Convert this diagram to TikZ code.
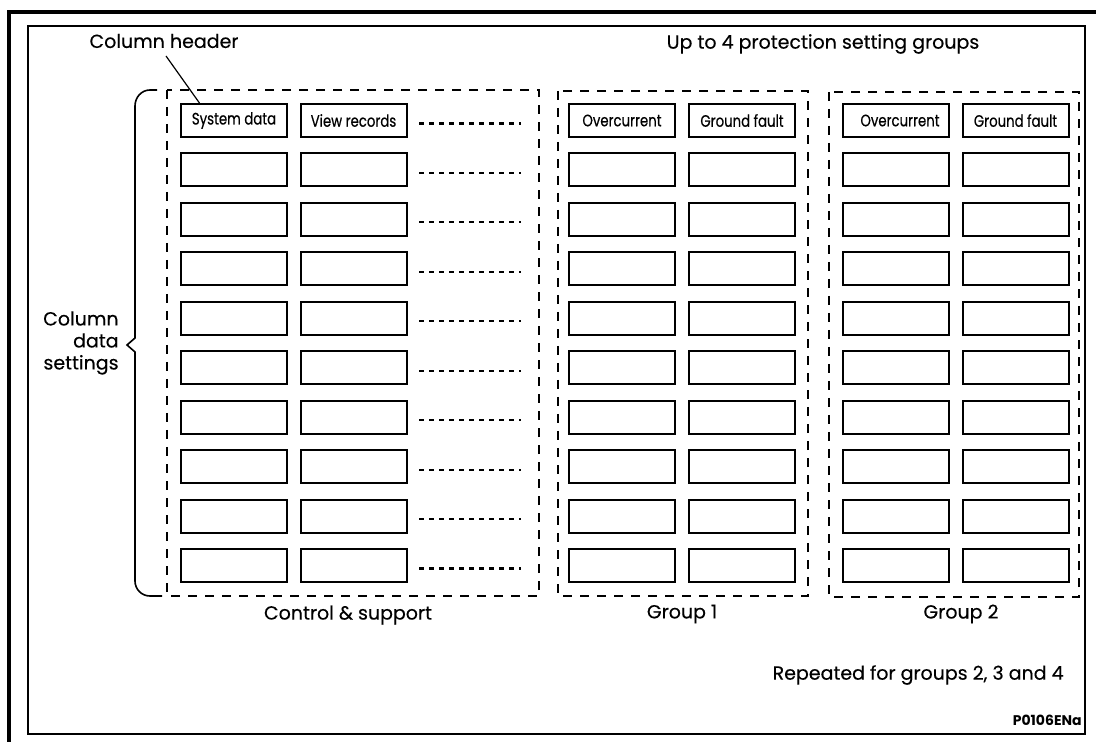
\documentclass[tikz,border=0pt]{standalone}
\usepackage{fontspec}
\setmainfont{Poppins}
\newfontfamily\boxfont[FakeStretch=0.8,FakeBold=0.5]{Poppins}
\newfontfamily\lblfont[FakeBold=0.3]{Poppins}
\usetikzlibrary{calc}
\begin{document}
\begin{tikzpicture}[x=0.5pt,y=-0.5pt,
  cell/.style={draw, line width=1pt, minimum width=53pt, minimum height=16.5pt, inner sep=0pt},
  celltext/.style={font=\boxfont\fontsize{8.3}{9}\selectfont, inner sep=0pt},
  grp/.style={draw, line width=1pt, dash pattern=on 4.5pt off 4pt},
  dotline/.style={line width=1.1pt, dash pattern=on 2.6pt off 2.4pt},
  lbl/.style={font=\lblfont\fontsize{9.5}{11}\selectfont, inner sep=0pt},
  frame/.style={line width=0.75pt},
  thickframe/.style={line width=1.6pt}]
\useasboundingbox (0,0) rectangle (1096,742);
% outer frames
\draw[thickframe] (9,742) -- (9,12) -- (1096,12);
\draw[frame] (28,26) rectangle (1085,734);
% group dashed boxes
\draw[grp] (167,90) rectangle (539,596);
\draw[grp] (558,91) rectangle (808,596);
\draw[grp] (829,92) rectangle (1079,597);
% cells
\foreach \i in {0,...,9}{
  \pgfmathsetmacro{\yy}{120.5+49.45*\i}
  \node[cell] (csa\i) at (234,\yy) {};
  \node[cell] (csb\i) at (353.5,\yy) {};
  \node[cell] (gaa\i) at (622,\yy) {};
  \node[cell] (gab\i) at (742,\yy) {};
  \node[cell] (gba\i) at (896,\yy) {};
  \node[cell] (gbb\i) at (1015.5,\yy) {};
  \coordinate (ds\i) at (419,\yy+3);
  \coordinate (de\i) at (521,\yy+3);
  \draw[dotline] (ds\i) -- (de\i);
}
% header texts
\node[celltext] at (csa0) {System data};
\node[celltext] at (csb0) {View records};
\node[celltext] at (gaa0) {Overcurrent};
\node[celltext] at (gab0) {Ground fault};
\node[celltext] at ($(gba0)+(4,0)$) {Overcurrent};
\node[celltext] at (gbb0) {Ground fault};
% labels
\node[lbl] (ch) at (164,41) {Column header};
\node[lbl] (up) at (823,44) {Up to 4 protection setting groups};
\node[lbl] (csl) at (348,615) {Control \& support};
\node[lbl] (g1l) at (682,614) {Group 1};
\node[lbl] (g2l) at (961,614) {Group 2};
\node[lbl, anchor=east] (rep) at (1064,675) {Repeated for groups 2, 3 and 4};
\node[font=\bfseries\fontsize{7}{8}\selectfont, inner sep=0pt, anchor=east] (code) at (1082,720) {P0106ENa};
\node[lbl, align=right, anchor=east] (cds) at (119,343) {Column\\data\\settings};
% leader
\coordinate (lead) at (166,56);
\draw[line width=0.6pt] (lead) -- ($(csa0.north west)!0.18!(csa0.north east)$);
% brace
\coordinate (tip) at (127,345);
\draw[line width=0.8pt] (162,596) -- (150,596) to[out=180,in=-90] (135,581) -- (135,352)
  -- (tip) -- (135,338) -- (135,106) to[out=90,in=180] (150,90) -- (157,90);
\end{tikzpicture}
\end{document}
